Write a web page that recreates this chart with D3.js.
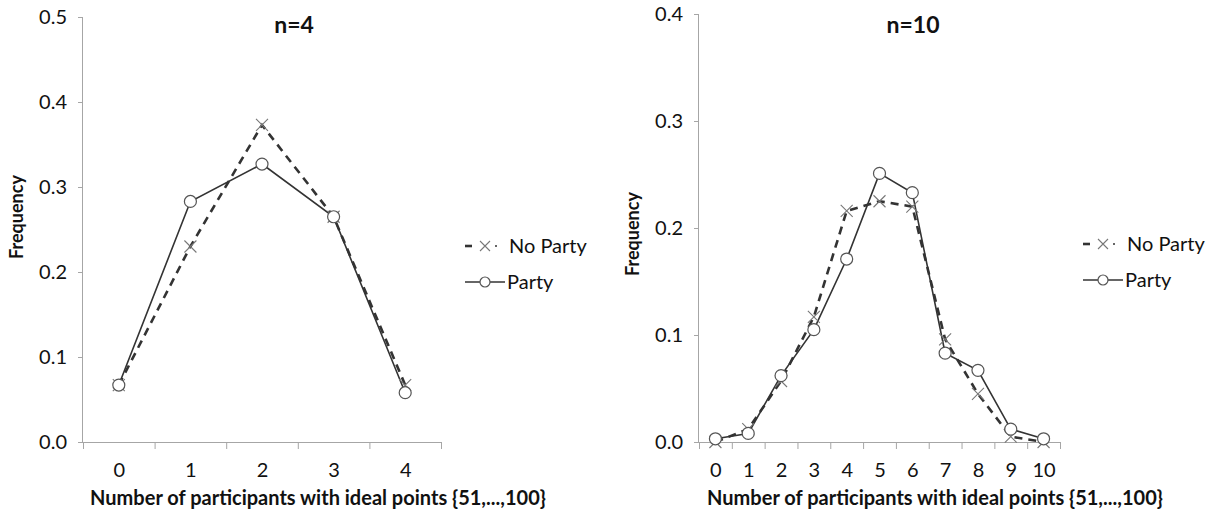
<!DOCTYPE html>
<html>
<head>
<meta charset="utf-8">
<script src="https://cdn.jsdelivr.net/npm/d3@7"></script>
<style>
  body { margin:0; background:#fff; }
  svg { font-family: Lato, "Open Sans", sans-serif; fill:#111; }
  .axis path, .axis line { stroke:#a6a6a6; }
  .axis text { fill:#111; }
</style>
</head>
<body>
<svg width="1215" height="518"></svg>
<script>
// data
const cats4 = [0,1,2,3,4]
const noParty4 = [0.067,0.230,0.373,0.265,0.067]
const party4 = [0.067,0.283,0.327,0.265,0.058]

const cats10 = [0,1,2,3,4,5,6,7,8,9,10]
const noParty10 = [0.000,0.012,0.057,0.117,0.216,0.225,0.220,0.096,0.045,0.005,0.000]
const party10 = [0.003,0.008,0.062,0.105,0.171,0.251,0.233,0.083,0.067,0.012,0.003]

const yTicks4 = [0,0.1,0.2,0.3,0.4,0.5]
const yTicks10 = [0,0.1,0.2,0.3,0.4]
const seriesNames = ["No Party","Party"]
const xTitle = "Number of participants with ideal points {51,...,100}"

let svg = d3.select("svg")

//draws one panel
const panel = (o) => {
  let N = o.cats.length
  let x = d3.scaleLinear().domain([-0.5, N-0.5]).range([o.x0, o.x1])
  let y = d3.scaleLinear().domain([0, o.yMax]).range([442, o.yTop])
  let g = svg.append("g")

  //y axis
  g.append("g").attr("class","axis").attr("transform",`translate(${o.x0},0)`)
    .call(d3.axisLeft(y).tickValues(o.yTicks).tickFormat(d3.format(".1f")).tickSize(5).tickPadding(11))
    .call(a => a.select(".domain").attr("d", `M-0.5,${y(0)}V${o.yTop}`))
    .selectAll("text").style("font-size","20px").style("font-family","Lato")

  //x axis: boundary ticks
  let bounds = d3.range(N+1).map(i => i-0.5)
  g.append("g").attr("class","axis").attr("transform",`translate(0,${y(0)})`)
    .call(d3.axisBottom(x).tickValues(bounds).tickFormat("").tickSize(7).tickSizeOuter(0))
  //x labels
  g.append("g").attr("class","axis").attr("transform",`translate(0,${y(0)})`)
    .call(d3.axisBottom(x).tickValues(o.cats).tickFormat(d3.format("d")).tickSize(0).tickPadding(21))
    .call(a => a.select(".domain").remove())
    .selectAll("text").style("font-size","20px").style("font-family","Lato")

  //titles
  g.append("text").attr("x", o.tx).attr("y", 33).attr("text-anchor","middle")
    .style("font-weight","bold").style("font-size","23px").text(o.title)
  g.append("text").attr("x", o.xtx).attr("y", 505).attr("text-anchor","middle")
    .style("font-weight","bold").style("font-size","20px").text(xTitle)
  g.append("text").attr("transform",`translate(${o.x0-60},${o.yMid}) rotate(-90)`)
    .attr("text-anchor","middle").style("font-weight","bold").style("font-size","18px").text("Frequency")

  let line = d3.line().x((d,i)=> x(o.cats[i])).y(d=> y(d))

  //No Party dashed
  g.append("path").datum(o.noParty).attr("d", line)
    .attr("fill","none").attr("stroke","#333").attr("stroke-width",2.6).attr("stroke-dasharray","8,6")
  //Party solid
  g.append("path").datum(o.party).attr("d", line)
    .attr("fill","none").attr("stroke","#333").attr("stroke-width",1.6)

  const cross = (sel, s) => sel.attr("d", `M${-s},${-s}L${s},${s}M${-s},${s}L${s},${-s}`)
    .attr("stroke","#777").attr("stroke-width",1.1).attr("fill","none")

  g.selectAll(".xm").data(o.noParty).enter().append("path").attr("class","xm")
    .attr("transform",(d,i)=> `translate(${x(o.cats[i])},${y(d)})`)
    .call(cross, 6)
  g.selectAll(".om").data(o.party).enter().append("circle").attr("class","om")
    .attr("cx",(d,i)=> x(o.cats[i])).attr("cy", d=> y(d)).attr("r",6)
    .attr("fill","#fff").attr("stroke","#555").attr("stroke-width",1.2)

  //legend
  let lg = svg.append("g").attr("transform",`translate(${o.lx},${o.ly})`)
  lg.append("line").attr("x1",0).attr("x2",7).attr("y1",0).attr("y2",0)
    .attr("stroke","#333").attr("stroke-width",2.6)
  lg.append("path").attr("transform","translate(20,0)").call(cross,5)
  lg.append("circle").attr("cx",31).attr("cy",0).attr("r",1).attr("fill","#333")
  lg.append("text").attr("x",44).attr("y",7).style("font-size","20px").text(seriesNames[0])
  lg.append("line").attr("x1",0).attr("x2",40).attr("y1",36).attr("y2",36)
    .attr("stroke","#333").attr("stroke-width",1.6)
  lg.append("circle").attr("cx",20).attr("cy",36).attr("r",5)
    .attr("fill","#fff").attr("stroke","#555").attr("stroke-width",1.2)
  lg.append("text").attr("x",42).attr("y",43).style("font-size","20px").text(seriesNames[1])
}

panel({cats:cats4, noParty:noParty4, party:party4, yMax:0.5, yTop:17, yTicks:yTicks4,
  x0:83, x1:441, tx:294, xtx:318, title:"n=4", yMid:217, lx:465, ly:246})
panel({cats:cats10, noParty:noParty10, party:party10, yMax:0.4, yTop:14, yTicks:yTicks10,
  x0:699, x1:1060, tx:913, xtx:935, title:"n=10", yMid:234, lx:1083, ly:244})
</script>
</body>
</html>
